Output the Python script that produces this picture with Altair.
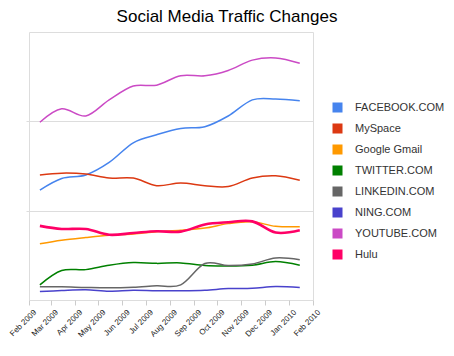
import altair as alt
import pandas as pd

months = ["2009-02-15", "2009-03-15", "2009-04-15", "2009-05-15", "2009-06-15", "2009-07-15",
          "2009-08-15", "2009-09-15", "2009-10-15", "2009-11-15", "2009-12-15", "2010-01-15"]

series_names = ["FACEBOOK.COM", "MySpace", "Google Gmail", "TWITTER.COM",
                "LINKEDIN.COM", "NING.COM", "YOUTUBE.COM", "Hulu"]
series_colors = ["#4684EE", "#DC3912", "#FF9900", "#008000",
                 "#666666", "#4942CC", "#CB4AC5", "#FF0066"]

facebook = [123, 136, 140, 154, 176, 185, 192, 194, 206, 224, 225, 223]
myspace = [140, 142, 141, 136.5, 136.5, 128, 131, 128, 127, 136.5, 139, 134]
gmail = [63, 67, 70, 72.5, 74, 76.5, 78, 80.5, 85.5, 87.5, 82.5, 82]
twitter = [17, 33, 34, 39, 42, 41, 41.5, 38.5, 38, 39, 43, 39]
linkedin = [14.7, 14.7, 14, 13.6, 14.3, 15.9, 17, 40.8, 38.5, 40.4, 47, 45]
ning = [9.5, 10.6, 11.4, 9.8, 10.9, 10.3, 10.3, 10.9, 12.8, 13.2, 15.1, 14]
youtube = [199, 214, 206, 224, 239.5, 240.5, 251, 251, 257, 268.5, 271, 265]
hulu = [83, 79.5, 79.5, 73, 75, 77, 76.5, 84.5, 87, 88, 75.5, 78]

all_values = [facebook, myspace, gmail, twitter, linkedin, ning, youtube, hulu]

rows = []
for order, (name, vals) in enumerate(zip(series_names, all_values)):
    for m, v in zip(months, vals):
        rows.append({"month": m, "series": name, "value": v, "order": order})
df = pd.DataFrame(rows)

x_enc = alt.X("month:T",
              scale=alt.Scale(domain=["2009-02-01", "2010-02-01"]),
              axis=alt.Axis(title=None, format="%b %Y", tickCount={"interval": "month", "step": 1},
                            labelAngle=-45, labelFontSize=8, labelColor="#222222",
                            labelFont="Liberation Sans", grid=False, domain=False,
                            labelOverlap=False, labelAlign="right", labelBaseline="middle",
                            tickColor="#cccccc", tickSize=5, labelPadding=6, labelOffset=6,
                            labelBound=False, labelFlush=False))
y_enc = alt.Y("value:Q",
              scale=alt.Scale(domain=[0, 300], nice=False),
              axis=alt.Axis(title=None, labels=False, values=[100, 200], grid=True,
                            gridColor="#dddddd", domain=False, tickColor="#dddddd", tickSize=3))
color_enc = alt.Color("series:N", sort=series_names,
                      scale=alt.Scale(domain=series_names, range=series_colors),
                      legend=alt.Legend(title=None, orient="none", legendX=303, legendY=70,
                                        symbolType="square", symbolSize=16, symbolStrokeWidth=6,
                                        symbolOpacity=1, labelFontSize=11, labelColor="#333333",
                                        labelFont="Liberation Sans", labelOffset=12,
                                        rowPadding=9, clipHeight=11))

base = alt.Chart(df).encode(x=x_enc, y=y_enc, color=color_enc, order=alt.Order("order:Q"),
                            detail="series:N")

lines = base.mark_line(interpolate="cardinal", strokeWidth=1.5).transform_filter(
    alt.datum.series != "Hulu")
hulu_line = base.mark_line(interpolate="cardinal", strokeWidth=2.6).transform_filter(
    alt.datum.series == "Hulu")

chart = alt.layer(lines, hulu_line).properties(
    width=284, height=268,
    title=alt.Title("Social Media Traffic Changes", fontSize=17, fontWeight="normal",
                    font="Liberation Sans", color="#000000", anchor="middle", frame="group",
                    dx=56, offset=6),
    autosize=alt.AutoSizeParams(type="none"),
    padding={"left": 21, "top": 24, "right": 133, "bottom": 48},
).configure_view(stroke="#d4d4d4", strokeWidth=1).configure(background="white")

chart.save("out.html", embed_options={"renderer": "svg", "actions": False})
